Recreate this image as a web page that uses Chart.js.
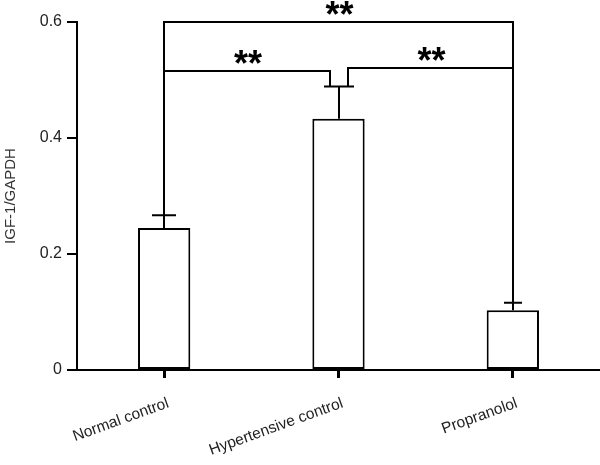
<!DOCTYPE html>
<html><head><meta charset="utf-8">
<script src="https://cdn.jsdelivr.net/npm/chart.js@4"></script>
<style>html,body{margin:0;padding:0;background:#fff}#wrap{width:600px;height:465px}</style>
</head><body><div id="wrap"><canvas id="c" width="600" height="465"></canvas></div>
<script>
// ---- data ----
const categories = ['Normal control', 'Hypertensive control', 'Propranolol'];
const means = [0.245, 0.433, 0.103];
const errors = [0.022, 0.056, 0.013];
const yTicks = [0, 0.2, 0.4, 0.6];
const yTickLabels = ['0', '0.2', '0.4', '0.6'];
const sigFrom = [0, 0, 2];
const sigTo = [2, 1, 1];
const sigLevel = [0.6, 0.516, 0.521];
const sigLabels = ['**', '**', '**'];
const yTitle = 'IGF-1/GAPDH';

const FONT = '"Liberation Sans", Arial, sans-serif';

const annot = {
  id: 'annot',
  afterDatasetsDraw(chart) {
    const ctx = chart.ctx;
    const x = chart.scales.x, y = chart.scales.y;
    ctx.save();
    ctx.strokeStyle = '#000';
    ctx.lineWidth = 2;
    ctx.lineCap = 'butt';
    const capHalf = [12, 15, 9];
    // error bars
    means.forEach((m, i) => {
      const cx = Math.round(x.getPixelForValue(i));
      const yt = y.getPixelForValue(m);
      const ye = y.getPixelForValue(m + errors[i]);
      ctx.beginPath();
      ctx.moveTo(cx, yt); ctx.lineTo(cx, ye);
      ctx.moveTo(cx - capHalf[i], ye); ctx.lineTo(cx + capHalf[i], ye);
      ctx.stroke();
    });
    // significance brackets
    const inner = 9;
    sigFrom.forEach((a, k) => {
      const b = sigTo[k];
      const wide = Math.abs(b - a) > 1;
      const xa = Math.round(x.getPixelForValue(a));
      let xb = Math.round(x.getPixelForValue(b));
      if (!wide) xb += (a < b ? -inner : inner);
      const ly = Math.round(y.getPixelForValue(sigLevel[k]));
      const ya = y.getPixelForValue(means[a] + errors[a]);
      const yb = y.getPixelForValue(means[b] + errors[b]);
      ctx.beginPath();
      ctx.moveTo(xa, ya); ctx.lineTo(xa, ly); ctx.lineTo(xb, ly); ctx.lineTo(xb, yb);
      ctx.stroke();
      // label
      ctx.font = 'bold 36px ' + FONT;
      ctx.fillStyle = '#000';
      ctx.textAlign = 'center';
      ctx.textBaseline = 'alphabetic';
      const mt = ctx.measureText(sigLabels[k]);
      const bottomTarget = ly - 7;
      ctx.fillText(sigLabels[k], (xa + xb) / 2 + 1, bottomTarget - mt.actualBoundingBoxDescent);
    });
    ctx.restore();
  }
};

new Chart(document.getElementById('c'), {
  type: 'bar',
  data: {
    labels: categories,
    datasets: [{
      data: means,
      backgroundColor: '#fff',
      borderColor: '#000',
      borderWidth: 2,
      borderSkipped: false,
      barPercentage: 0.3,
      categoryPercentage: 1
    }]
  },
  options: {
    responsive: false,
    animation: false,
    layout: { padding: { left: 0, right: 0, top: 22, bottom: 0 } },
    plugins: { legend: { display: false }, tooltip: { enabled: false } },
    scales: {
      x: {
        offset: true,
        grid: { display: true, drawOnChartArea: false, drawTicks: true, tickLength: 8, offset: false, color: '#000', lineWidth: 3 },
        border: { display: true, color: '#000', width: 2 },
        ticks: { color: '#222', font: { family: FONT, size: 15.5 }, minRotation: 20, maxRotation: 20, padding: 16, labelOffset: 4, autoSkip: false },
        afterFit(s) { s.height = 95; }
      },
      y: {
        min: 0, max: 0.6,
        afterBuildTicks(s) { s.ticks = yTicks.map(v => ({ value: v })); },
        grid: { drawOnChartArea: false, drawTicks: true, tickLength: 10, color: '#000', lineWidth: 2 },
        border: { display: true, color: '#000', width: 2 },
        ticks: { color: '#222', font: { family: FONT, size: 16 }, padding: 5, callback: (v, i) => yTickLabels[i] },
        title: { display: true, text: yTitle, color: '#333', font: { family: FONT, size: 15 }, padding: { top: 2, bottom: 0 } },
        afterFit(s) { s.width = 77; }
      }
    }
  },
  plugins: [annot]
});
</script></body></html>
